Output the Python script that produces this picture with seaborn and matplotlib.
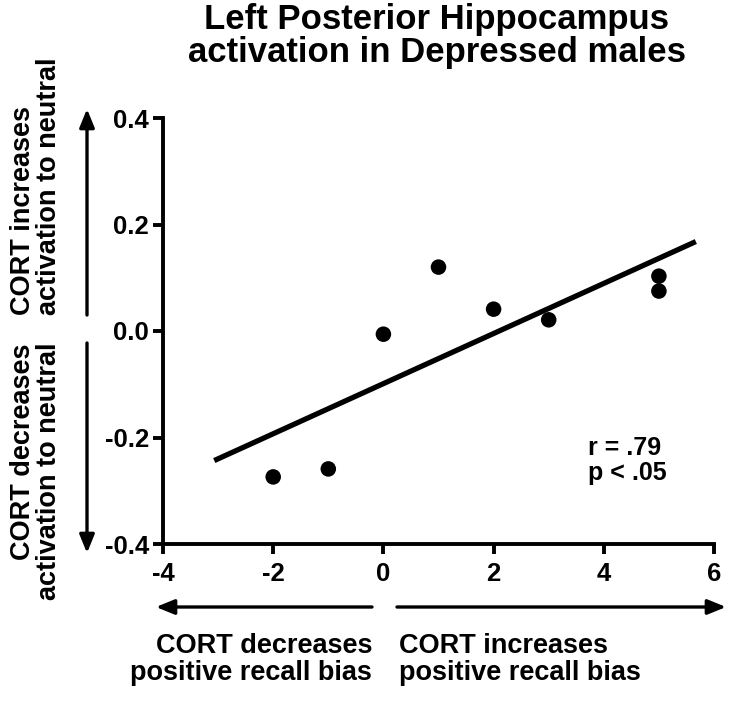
import matplotlib
matplotlib.use("Agg")
import matplotlib.pyplot as plt
from matplotlib.patches import FancyArrowPatch
import seaborn as sns
import numpy as np
import pandas as pd

# Data
recall_bias = [-2, -1, 0, 1, 2, 3, 5, 5]
activation = [-0.274, -0.259, -0.006, 0.120, 0.041, 0.021, 0.103, 0.075]
x_ticks = [-4, -2, 0, 2, 4, 6]
y_ticks = [-0.4, -0.2, 0.0, 0.2, 0.4]
title = "Left Posterior Hippocampus\nactivation in Depressed males"
stats_text = "r = .79\np < .05"
x_left_label = "CORT decreases\npositive recall bias"
x_right_label = "CORT increases\npositive recall bias"
y_top_label = "CORT increases\nactivation to neutral"
y_bottom_label = "CORT decreases\nactivation to neutral"

sns.set_style("ticks")
plt.rcParams['font.family'] = ['Liberation Sans', 'DejaVu Sans']
plt.rcParams['font.weight'] = 'bold'
plt.rcParams['text.color'] = 'black'
plt.rcParams['axes.labelcolor'] = 'black'
plt.rcParams['xtick.color'] = 'black'
plt.rcParams['ytick.color'] = 'black'
plt.rcParams['axes.edgecolor'] = 'black'

df = pd.DataFrame({"x": recall_bias, "y": activation})

W, H = 729, 703
fig = plt.figure(figsize=(W / 100, H / 100), dpi=100)
ax = fig.add_axes([163 / W, 1 - 544 / H, 551 / W, 426 / H])

# regression line drawn over x range -3.07 .. 5.67
ax.set_xlim(-3.07, 5.67)
sns.regplot(data=df, x="x", y="y", ax=ax, ci=None, truncate=False,
            scatter_kws=dict(s=125, color="black", edgecolor="none", alpha=1, zorder=3),
            line_kws=dict(color="black", lw=3.8, solid_capstyle="butt"))

ax.set_xlim(-4, 6)
ax.set_ylim(-0.4, 0.4)
ax.set_xticks(x_ticks)
ax.set_yticks(y_ticks)
ax.set_xticklabels([str(t) for t in x_ticks])
ax.set_yticklabels([f"{t:.1f}" for t in y_ticks])
ax.set_xlabel("")
ax.set_ylabel("")
sns.despine(ax=ax)
for s in ["left", "bottom"]:
    ax.spines[s].set_linewidth(2.8)
    ax.spines[s].set_capstyle("projecting")
ax.tick_params(axis="both", width=2.8, length=7, labelsize=18.5, color="black")
ax.tick_params(axis="y", pad=3)
ax.tick_params(axis="x", pad=6)
for lab in ax.get_xticklabels() + ax.get_yticklabels():
    lab.set_fontweight("bold")

ax.text(3.72, -0.197, stats_text, fontsize=18, fontweight="bold", ha="left", va="top",
        linespacing=1.05)

fig.text(437 / W, 1 - 3 / H, title, ha="center", va="top", fontsize=25,
         fontweight="bold", linespacing=1.0)

# Direction arrows
def arrow(x0, y0, x1, y1):
    fig.add_artist(FancyArrowPatch((x0 / W, 1 - y0 / H), (x1 / W, 1 - y1 / H),
                                   transform=fig.transFigure,
                                   arrowstyle="-|>,head_length=11,head_width=4.5",
                                   mutation_scale=1, lw=2.4, color="black",
                                   shrinkA=0, shrinkB=0))

arrow(372, 607, 156, 607)
arrow(397, 607, 726, 607)
arrow(87, 315, 87, 109)
arrow(87, 343, 87, 553)

fs = 19.5
fig.text(372 / W, 1 - 633 / H, x_left_label, ha="right", va="top", multialignment="right",
         fontsize=fs, fontweight="bold", linespacing=1.05)
fig.text(399 / W, 1 - 633 / H, x_right_label, ha="left", va="top", multialignment="left",
         fontsize=fs, fontweight="bold", linespacing=1.05)
fig.text(36 / W, 1 - 315 / H, y_top_label, ha="center", va="bottom", rotation=90,
         multialignment="left", fontsize=fs, fontweight="bold", linespacing=1.0)
fig.text(36 / W, 1 - 343 / H, y_bottom_label, ha="center", va="top", rotation=90,
         multialignment="right", fontsize=fs, fontweight="bold", linespacing=1.0)

fig.savefig("out.png", dpi=100)
